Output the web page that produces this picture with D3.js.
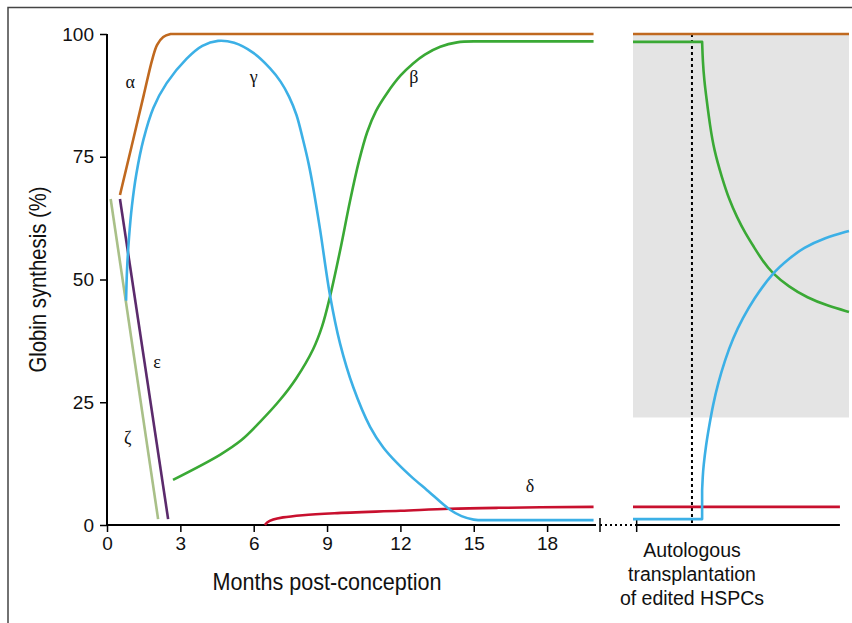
<!DOCTYPE html>
<html><head><meta charset="utf-8">
<script src="https://cdn.jsdelivr.net/npm/d3@7"></script>
<style>body{margin:0;background:#fff}svg{display:block}</style>
</head><body>
<svg id="c" width="852" height="623"></svg>
<script>
// ---- data (months post-conception, % globin synthesis) ----
const xTicks = [0, 3, 6, 9, 12, 15, 18];
const yTicks = [0, 25, 50, 75, 100];
const alphaPts = [[0.53,67.2],[1.0,77],[1.5,87.5],[1.85,94.8],[2.05,97.8],[2.3,99.4],[2.6,100],[19.9,100]];
const zetaPts = [[0.15,66.4],[2.09,1.2]];
const epsilonPts = [[0.53,66.4],[2.5,1.2]];
const gammaPts = [[0.78,45.7],[0.82,52],[0.9,58.5],[1.02,65],[1.2,71.5],[1.49,78.5],[1.9,85],[2.44,90],[3.26,95],[3.9,97.6],[4.54,98.6],[5.2,98.2],[5.97,96.2],[6.67,93],[7.1,90.3],[7.45,87.2],[7.75,83.5],[8.02,78.4],[8.25,73.5],[8.43,68.8],[8.72,60],[9.12,46.8],[9.53,37],[10.07,28.1],[10.76,20],[11.3,15.8],[11.87,12.6],[12.5,9.6],[13.09,7.1],[14.03,3.1],[14.5,1.8],[15.0,1.1],[15.6,1.0],[19.9,1.0]];
const betaPts = [[2.7,9.2],[4.62,14.3],[5.5,17.3],[6.26,21],[7.08,25.5],[7.73,29.8],[8.43,35.8],[8.8,40.5],[9.12,46.5],[9.53,55.8],[9.94,66],[10.3,74],[10.64,80],[11.0,84.3],[11.46,88],[12.0,91.5],[12.52,94],[13.0,95.8],[13.63,97.4],[14.32,98.3],[15,98.5],[19.9,98.5]];
const deltaPts = [[6.46,0],[6.55,0.5],[6.8,1.1],[7.2,1.55],[8,2.0],[9.3,2.4],[12,2.9],[14,3.3],[16,3.5],[19.9,3.7]];
// right panel (post-transplant, arbitrary time 0-100)
const transplantT = 27.3;
const shadeRange = [21.9, 100];
const alphaR = [[0,100],[100,100]];
const deltaR = [[0,3.7],[95.8,3.7]];
const betaR = [[0,98.4],[32,98.4],[32.3,94.5],[33,90.5],[34.1,86.6],[35.6,81.5],[37.5,76.4],[41.2,70.7],[44.5,66.3],[48.1,62.7],[52,59.4],[56,56.6],[60,53.8],[64.4,51.3],[72.2,48.5],[80.6,46.3],[90.3,44.6],[100,43.4]];
const gammaR = [[0,1.2],[32,1.2],[32,7.1],[32.3,10],[32.64,12],[33.8,16.3],[35.2,20],[37,24.4],[39.4,28.9],[42.6,33.6],[46.3,38.1],[50.9,42.2],[55.6,45.8],[64.4,51.3],[72.7,54.4],[78.7,56.4],[88.9,58.5],[100,59.9]];
const labels = [["α",0.95,89],["γ",6.0,90],["β",12.55,90],["ε",2.05,32],["ζ",0.85,16.5],["δ",17.3,6.8]];
const colors = {alpha:"#c0691f", gamma:"#3cb0e6", beta:"#3aa935", delta:"#c8102e", epsilon:"#5b2a6c", zeta:"#a9c088"};

const svg = d3.select("#c");
const x = d3.scaleLinear().domain([0,20]).range([107,596]);
const x2 = d3.scaleLinear().domain([0,100]).range([633,849]);
const y = d3.scaleLinear().domain([0,100]).range([525,34]);

// frame
svg.append("path").attr("d","M8,623V7.5H852").attr("fill","none").attr("stroke","#444").attr("stroke-width",1.5);

// shaded region
svg.append("rect").attr("x",x2(0)).attr("width",x2(100)-x2(0))
  .attr("y",y(shadeRange[1])).attr("height",y(shadeRange[0])-y(shadeRange[1])).attr("fill","#e4e4e4");

// transplant dotted line
svg.append("line").attr("x1",x2(transplantT)).attr("x2",x2(transplantT)).attr("y1",y(100)).attr("y2",y(0))
  .attr("stroke","#000").attr("stroke-width",2).attr("stroke-dasharray","3,3");

// axes
const gy = svg.append("g").attr("transform",`translate(${x(0)},0)`)
  .call(d3.axisLeft(y).tickValues(yTicks).tickSize(7).tickPadding(6));
gy.select(".domain").attr("d",`M0,${y(100)}V${y(0)}`).attr("stroke-width",2);
gy.selectAll(".tick line").attr("stroke-width",1.5);
gy.selectAll("text").attr("font-family","'Liberation Sans',Arial,sans-serif").attr("font-size",19).attr("fill","#111");

const gx = svg.append("g").attr("transform",`translate(0,${y(0)})`)
  .call(d3.axisBottom(x).tickValues(xTicks).tickSize(7).tickPadding(5));
gx.select(".domain").attr("d",`M${x(0)},0H${x(20)}`).attr("stroke-width",2);
gx.selectAll(".tick line").attr("stroke-width",1.5);
gx.selectAll("text").attr("font-family","'Liberation Sans',Arial,sans-serif").attr("font-size",19).attr("fill","#111");

// axis break
const bx1 = x(20)+4, bx2 = x2(1.7);
svg.append("line").attr("x1",bx1).attr("x2",bx2).attr("y1",y(0)).attr("y2",y(0))
  .attr("stroke","#000").attr("stroke-width",2).attr("stroke-dasharray","2,3");
[bx1,bx2].forEach(b=>svg.append("line").attr("x1",b).attr("x2",b).attr("y1",y(0)-7).attr("y2",y(0)+7).attr("stroke","#000").attr("stroke-width",1.5));
svg.append("line").attr("x1",bx2).attr("x2",x2(95.8)).attr("y1",y(0)).attr("y2",y(0)).attr("stroke","#000").attr("stroke-width",2);

// axis titles
svg.append("text").attr("x",x(9)).attr("y",590).attr("text-anchor","middle")
  .attr("font-family","'Liberation Sans Narrow','Liberation Sans',Arial,sans-serif").attr("font-size",24)
  .attr("textLength",229).attr("lengthAdjust","spacingAndGlyphs").attr("fill","#111").text("Months post-conception");
svg.append("text").attr("transform",`translate(46,${y(50)}) rotate(-90)`).attr("text-anchor","middle")
  .attr("font-family","'Liberation Sans Narrow','Liberation Sans',Arial,sans-serif").attr("font-size",24)
  .attr("textLength",186).attr("lengthAdjust","spacingAndGlyphs").attr("fill","#111").text("Globin synthesis (%)");

// transplant label
["Autologous","transplantation","of edited HSPCs"].forEach((t,i)=>{
  svg.append("text").attr("x",x2(transplantT)).attr("y",557+i*24.2).attr("text-anchor","middle")
    .attr("font-family","'Liberation Sans',Arial,sans-serif").attr("font-size",19.5).attr("fill","#111").text(t);
});

// lines: flat / vertical runs drawn straight, the rest as smooth curves
function pathFor(pts, xs, crv){
  const lin = d3.line().x(p=>xs(p[0])).y(p=>y(p[1]));
  const smo = d3.line().x(p=>xs(p[0])).y(p=>y(p[1])).curve(crv);
  const pieces = []; let run = [pts[0]]; let type = null;
  for (let k=1;k<pts.length;k++){
    const a=pts[k-1], b=pts[k];
    const t = (a[0]===b[0]||a[1]===b[1]) ? "L" : "C";
    if (type===null||t===type){ run.push(b); type=t; }
    else { pieces.push([type,run]); run=[a,b]; type=t; }
  }
  pieces.push([type,run]);
  return pieces.map(([t,p],i)=>{
    const s = (t==="L"?lin:smo)(p);
    return i===0 ? s : s.replace(/^M/,"L");
  }).join("");
}
const cL = d3.curveCatmullRom.alpha(0.5), cR = d3.curveBasis;
const series = [
  [zetaPts,colors.zeta,x,cL],[epsilonPts,colors.epsilon,x,cL],
  [deltaPts,colors.delta,x,cL],[betaPts,colors.beta,x,cL],[gammaPts,colors.gamma,x,cL],[alphaPts,colors.alpha,x,cL],
  [deltaR,colors.delta,x2,cR],[betaR,colors.beta,x2,cR],[gammaR,colors.gamma,x2,cR],[alphaR,colors.alpha,x2,cR]
];
series.forEach(([d,c,xs,cv])=>svg.append("path").attr("d",pathFor(d,xs,cv)).attr("fill","none")
  .attr("stroke",c).attr("stroke-width",2.6).attr("stroke-linejoin","round"));

// greek labels
labels.forEach(([t,mx,my])=>svg.append("text").attr("x",x(mx)).attr("y",y(my)).attr("text-anchor","middle")
  .attr("font-family","'Liberation Serif','DejaVu Serif',serif").attr("font-size",18).attr("fill","#111").text(t));
</script>
</body></html>
